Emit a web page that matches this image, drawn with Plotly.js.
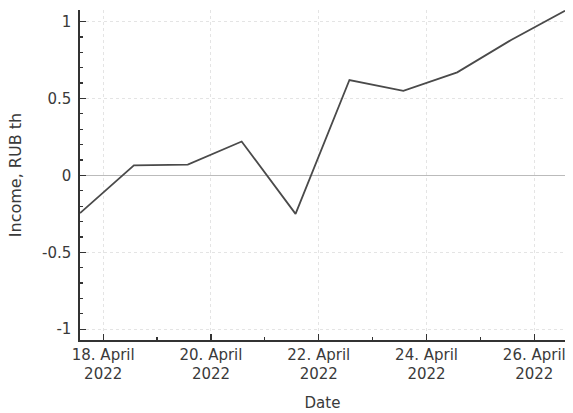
<!DOCTYPE html>
<html>
<head>
<meta charset="utf-8">
<script src="https://cdn.plot.ly/plotly-3.0.1.min.js"></script>
<style>
  html, body { margin: 0; padding: 0; background: #fff; }
  #chart { width: 573px; height: 413px; }
</style>
</head>
<body>
<div id="chart"></div>
<script>
// daily points, taken at the same time of day
const dates = [
  '2022-04-17 13:40', '2022-04-18 13:40', '2022-04-19 13:40', '2022-04-20 13:40',
  '2022-04-21 13:40', '2022-04-22 13:40', '2022-04-23 13:40', '2022-04-24 13:40',
  '2022-04-25 13:40', '2022-04-26 13:40'
];
const income = [-0.245, 0.065, 0.07, 0.22, -0.25, 0.62, 0.55, 0.67, 0.88, 1.07];

const xTickVals = ['2022-04-18', '2022-04-20', '2022-04-22', '2022-04-24', '2022-04-26'];
const xTickText = ['18. April<br>2022', '20. April<br>2022', '22. April<br>2022', '24. April<br>2022', '26. April<br>2022'];
const yTickVals = [-1, -0.5, 0, 0.5, 1];
const yTickText = ['-1', '-0.5', '0', '0.5', '1'];

const textColor = '#3a3a3a';
const font = { family: 'DejaVu Sans, Verdana, sans-serif', size: 15, color: textColor };

const trace = {
  x: dates,
  y: income,
  type: 'scatter',
  mode: 'lines',
  line: { color: '#4a4a4a', width: 1.8 },
  hoverinfo: 'skip'
};

const layout = {
  width: 573,
  height: 413,
  margin: { l: 80, r: 8, t: 10, b: 73 },
  paper_bgcolor: '#fff',
  plot_bgcolor: '#fff',
  font: font,
  showlegend: false,
  xaxis: {
    type: 'date',
    range: [dates[0], dates[dates.length - 1]],
    tickvals: xTickVals,
    ticktext: xTickText,
    ticks: 'inside',
    ticklen: 6,
    tickwidth: 1.2,
    tickcolor: '#333',
    showline: true,
    linecolor: '#333',
    linewidth: 1.6,
    showgrid: true,
    gridcolor: '#e4e4e4',
    griddash: 'dot',
    zeroline: false,
    minor: { dtick: 86400000 * 2, tick0: '2022-04-19', ticks: 'inside', ticklen: 3, tickcolor: '#333', showgrid: false },
    title: { text: 'Date', font: { size: 15, color: textColor }, standoff: 15 },
    tickfont: { size: 15, color: textColor }
  },
  yaxis: {
    range: [-1.07, 1.075],
    tickvals: yTickVals,
    ticktext: yTickText,
    ticks: 'inside',
    ticklen: 6,
    tickwidth: 1.2,
    tickcolor: '#333',
    ticklabelstandoff: 4,
    showline: true,
    linecolor: '#333',
    linewidth: 1.6,
    showgrid: true,
    gridcolor: '#e4e4e4',
    griddash: 'dot',
    zeroline: true,
    zerolinecolor: '#bbb',
    zerolinewidth: 1.5,
    minor: { dtick: 0.1, ticks: 'inside', ticklen: 3, tickcolor: '#333', showgrid: false },
    title: { text: 'Income, RUB th', font: { size: 16, color: textColor }, standoff: 16 },
    tickfont: { size: 15, color: textColor }
  }
};

Plotly.newPlot('chart', [trace], layout, { displayModeBar: false, staticPlot: true });
</script>
</body>
</html>
